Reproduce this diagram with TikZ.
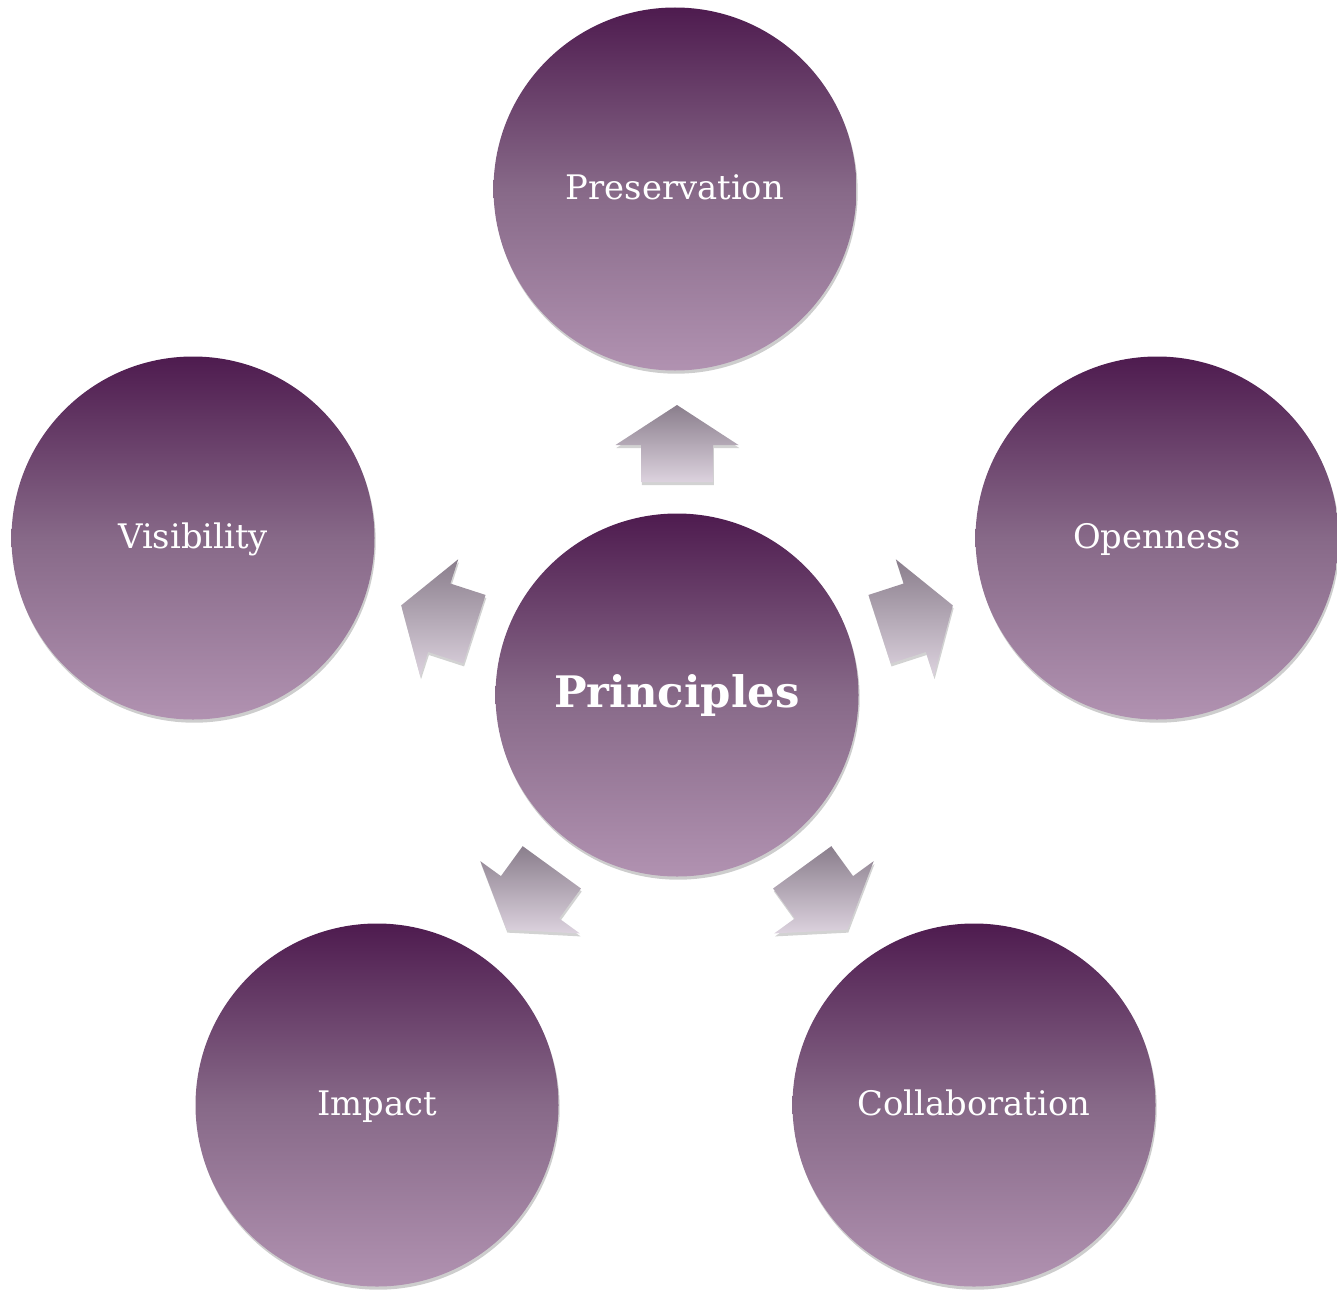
\documentclass[tikz,border=0pt]{standalone}
\usepackage{fontspec}
\setmainfont{DejaVu Serif}
\usetikzlibrary{calc,shadows}
\definecolor{plumtop}{RGB}{78,27,79}
\definecolor{plummid}{RGB}{135,105,136}
\definecolor{plumbot}{RGB}{177,146,177}
\definecolor{arrtop}{RGB}{138,126,140}
\definecolor{arrbot}{RGB}{220,210,222}
\begin{document}
\begin{tikzpicture}[x=0.5pt,y=-0.5pt,
  bubble/.style={circle, minimum size=181.5pt, inner sep=0pt,
    top color=plumtop, bottom color=plumbot, middle color=plummid,
    text=white, font=\fontsize{16.9}{20}\selectfont,
    text height=12pt, text depth=2pt,
    drop shadow={shadow xshift=0.6pt, shadow yshift=-1.6pt, opacity=0.28, fill=black!70}},
  blockarrow/.style={top color=arrtop, bottom color=arrbot,
    drop shadow={shadow xshift=0.4pt, shadow yshift=-1.5pt, opacity=0.25, fill=black!70}}]
\useasboundingbox (0,0) rectangle (1337,1295);
\coordinate (c) at (677,695);
\node[bubble] (pres) at (675,189) {Preservation};
\node[bubble] (vis) at (193,538) {Visibility};
\node[bubble] (open) at (1157,538) {Openness};
\node[bubble] (imp) at (377,1105) {Impact};
\node[bubble] (coll) at (974,1105) {Collaboration};
\node[bubble, font=\bfseries\fontsize{21.7}{26}\selectfont, text height=14pt, text depth=2pt] (prin) at (c) {Principles};
\foreach \t in {-90,-162,-18,126,54}{
  \path[blockarrow]
    ($(c)+(\t:213)+(\t+90:36)$) -- ($(c)+(\t:250)+(\t+90:36)$)
    -- ($(c)+(\t:250)+(\t+90:61.5)$) -- ($(c)+(\t:290)$)
    -- ($(c)+(\t:250)+(\t-90:61.5)$) -- ($(c)+(\t:250)+(\t-90:36)$)
    -- ($(c)+(\t:213)+(\t-90:36)$) -- cycle;
}
\end{tikzpicture}
\end{document}
